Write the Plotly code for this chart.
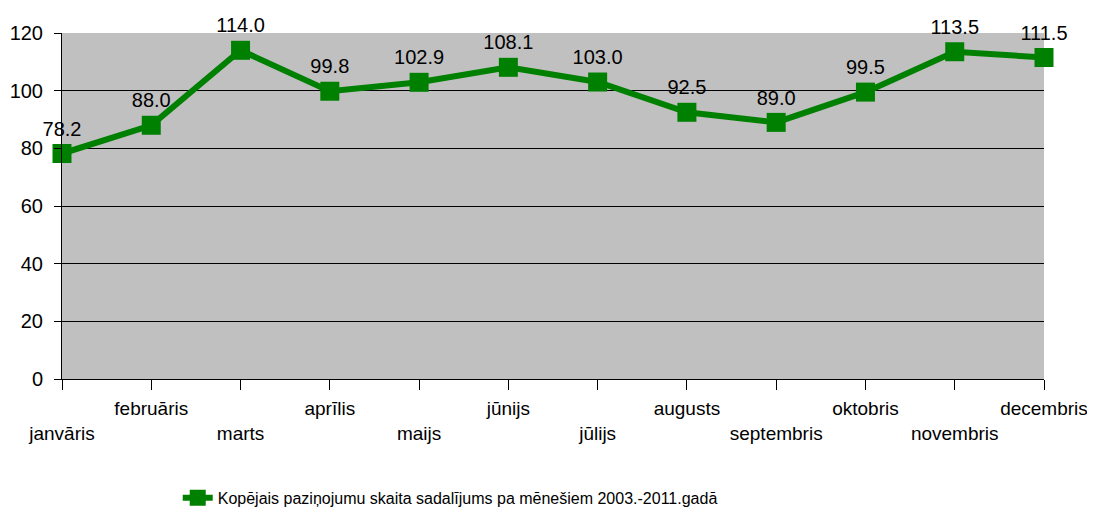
import plotly.graph_objects as go

months = ["janvāris", "februāris", "marts", "aprīlis", "maijs", "jūnijs",
          "jūlijs", "augusts", "septembris", "oktobris", "novembris", "decembris"]
values = [78.2, 88.0, 114.0, 99.8, 102.9, 108.1, 103.0, 92.5, 89.0, 99.5, 113.5, 111.5]
series_name = "Kopējais paziņojumu skaita sadalījums pa mēnešiem 2003.-2011.gadā"
y_ticks = [0, 20, 40, 60, 80, 100, 120]

x_pos = list(range(len(months)))
# alternate labels between two rows, like the original
tick_text = [(" <br>" + m) if i % 2 == 0 else m for i, m in enumerate(months)]

fig = go.Figure()
fig.add_trace(go.Scatter(
    x=x_pos, y=values, name=series_name,
    mode="lines+markers+text",
    text=[f"{v:.1f}" for v in values],
    textposition="top center",
    textfont=dict(size=20, color="black"),
    line=dict(color="#008000", width=6),
    marker=dict(symbol="square", size=19, color="#008000"),
    cliponaxis=False,
))

# the page body adds an 8px offset, so margins are shifted accordingly
fig.update_layout(
    width=1095, height=513,
    margin=dict(l=54, r=59, t=25, b=142),
    paper_bgcolor="white", plot_bgcolor="#c0c0c0",
    font=dict(family="Liberation Sans, Arial, sans-serif", size=19, color="black"),
    showlegend=True,
    legend=dict(orientation="h", xref="container", yref="container",
                x=0.155, xanchor="left", y=0.045, yanchor="middle",
                font=dict(size=16), itemwidth=30),
)
fig.update_xaxes(
    range=[0, 11], tickvals=x_pos, ticktext=tick_text,
    tickangle=0, automargin=False, ticklabelstandoff=2,
    showgrid=False, zeroline=False,
    showline=True, linecolor="black", linewidth=1,
    ticks="outside", ticklen=10, tickcolor="black",
    tickfont=dict(size=19),
)
fig.update_yaxes(
    range=[0, 120], tickvals=y_ticks, automargin=False, ticklabelstandoff=7,
    showgrid=True, gridcolor="black", gridwidth=1, zeroline=False,
    showline=True, linecolor="black", linewidth=1,
    ticks="outside", ticklen=7, tickcolor="black",
    tickfont=dict(size=20),
)

fig.write_html("out.html")
